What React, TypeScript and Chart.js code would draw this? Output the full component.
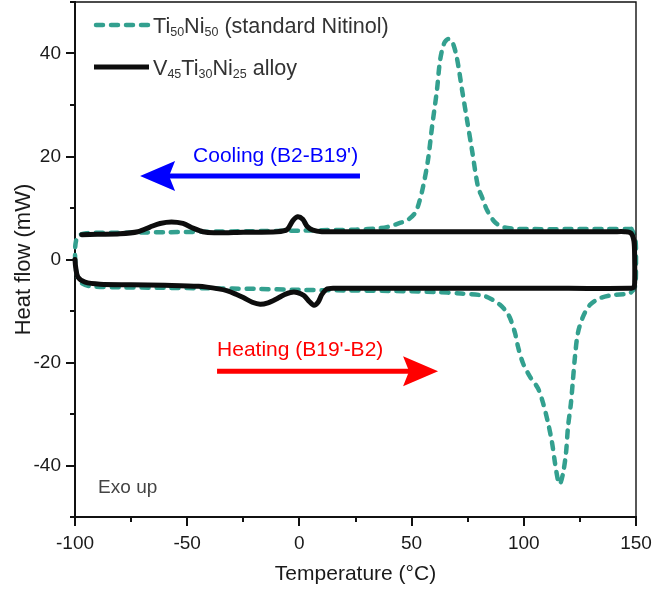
import React, { useEffect, useRef } from "react";
import { Chart, registerables } from "chart.js";

Chart.register(...registerables);

// ---- Data ----
const tiNiTemp = [148, 135, 120, 105, 95, 90.7, 87, 83.6, 81.5, 79.6, 76.9, 74.7, 72.5, 70.2, 68.2, 66.3, 64.5, 62.7, 61.3, 59.1, 57.3, 55.1, 53.3, 51.5, 48, 44.8, 40, 35.9, 25, 10, 0, -20, -40, -60, -80, -95, -98.5, -99.6, -100, -99.7, -98.8, -97, -93, -80, -60, -40, -20, 0, 20, 40, 60, 72, 81.8, 86, 89.4, 92, 93.8, 96.1, 97.4, 99.6, 102.8, 106.3, 108.6, 110.8, 112.6, 113.9, 115.2, 116.1, 117.5, 118.8, 119.7, 121, 121.9, 122.8, 124.1, 126.4, 129.5, 134, 139.8, 147.3, 149.6, 150, 150, 149.5, 148];
const tiNiHeat = [5.9, 5.9, 5.9, 5.9, 6.0, 6.3, 7.3, 9.6, 12, 14.1, 21.3, 27.1, 32.9, 39.1, 42.2, 42.8, 42, 38.7, 32.9, 25.7, 19.3, 14.1, 11, 9.0, 7.6, 7.1, 6.4, 6.1, 5.8, 5.7, 5.6, 5.5, 5.4, 5.3, 5.2, 5.1, 4.6, 3.5, 1.5, -1.5, -3.5, -4.6, -5.2, -5.4, -5.5, -5.6, -5.7, -5.9, -6.0, -6.1, -6.3, -6.6, -7.0, -7.8, -8.8, -10, -11.3, -14.3, -16.9, -20.1, -22.8, -25, -27.9, -31.7, -35.6, -39.5, -42.8, -43.6, -41.5, -37.6, -32.5, -27.9, -23.4, -18.9, -14.3, -11.1, -8.8, -7.5, -6.9, -6.5, -5.2, -2, 2, 4.5, 5.9];

const vTiNiTemp = [-97, -90, -80, -72, -66.6, -62.1, -57, -51.9, -47.4, -43, -38, -25, -10, -5.5, -3, -0.8, 1.5, 3.5, 6, 10, 20, 60, 100, 140, 145, 147.8, 149.1, 149.4, 149.4, 149, 147, 120, 80, 40, 15, 12, 10, 8.3, 6.5, 4.5, 2, -1, -4, -7, -10, -14, -17.5, -21, -25, -28, -32, -36, -45, -60, -75, -88.9, -95.5, -98.7, -99.7, -100];
const vTiNiHeat = [4.8, 4.9, 5.0, 5.4, 6.3, 7.0, 7.3, 7.0, 6.1, 5.4, 5.2, 5.3, 5.4, 5.8, 7.5, 8.3, 7.8, 6.4, 5.7, 5.4, 5.4, 5.4, 5.4, 5.4, 5.4, 5.1, 3.5, 0, -4.5, -5.4, -5.6, -5.6, -5.6, -5.6, -5.6, -5.8, -6.8, -8.3, -8.9, -8.2, -7.0, -6.4, -6.4, -6.9, -7.6, -8.4, -8.7, -8.3, -7.4, -6.8, -6.1, -5.7, -5.2, -5.0, -4.9, -4.8, -4.4, -3.4, -1.5, 0];

const xMajorTicks = [-100, -50, 0, 50, 100, 150];
const xMinorTicks = [-75, -25, 25, 75, 125];
const yMajorTicks = [-40, -20, 0, 20, 40];
const yMinorTicks = [-50, -30, -10, 10, 30, 50];

const xTitle = "Temperature (°C)";
const yTitle = "Heat flow (mW)";
const legendTiNi: [string, boolean][] = [["Ti", false], ["50", true], ["Ni", false], ["50", true], [" (standard Nitinol)", false]];
const legendVTiNi: [string, boolean][] = [["V", false], ["45", true], ["Ti", false], ["30", true], ["Ni", false], ["25", true], [" alloy", false]];
const coolingLabel = "Cooling (B2-B19')";
const heatingLabel = "Heating (B19'-B2)";
const exoLabel = "Exo up";

const FONT = "'Liberation Sans', Arial, sans-serif";
const TEAL = "#33a08f";

function drawArrow(ctx: CanvasRenderingContext2D, x0: number, x1: number, y: number, color: string) {
  const dir = Math.sign(x1 - x0);
  const headLen = 35;
  const headHalf = 15;
  const notch = 6;
  ctx.save();
  ctx.strokeStyle = color;
  ctx.fillStyle = color;
  ctx.lineWidth = 5;
  ctx.beginPath();
  ctx.moveTo(x0, y);
  ctx.lineTo(x1 - dir * (headLen - notch - 2), y);
  ctx.stroke();
  ctx.beginPath();
  ctx.moveTo(x1, y);
  ctx.lineTo(x1 - dir * headLen, y - headHalf);
  ctx.lineTo(x1 - dir * (headLen - notch), y);
  ctx.lineTo(x1 - dir * headLen, y + headHalf);
  ctx.closePath();
  ctx.fill();
  ctx.restore();
}

function drawRichText(ctx: CanvasRenderingContext2D, parts: [string, boolean][], x: number, baseline: number) {
  let cx = x;
  for (const [t, sub] of parts) {
    ctx.font = sub ? `12.5px ${FONT}` : `21.6px ${FONT}`;
    ctx.fillText(t, cx, sub ? baseline + 3 : baseline);
    cx += ctx.measureText(t).width;
  }
}

const zeroPad = (s: any) => {
  s.paddingTop = 0;
  s.paddingBottom = 0;
  s.paddingLeft = 0;
  s.paddingRight = 0;
};

const decorPlugin = {
  id: "decor",
  afterDraw(chart: any) {
    const { ctx, chartArea: a, scales } = chart;
    const xs = scales.x;
    const ys = scales.y;
    ctx.save();
    // top & right frame
    ctx.strokeStyle = "#111";
    ctx.lineWidth = 1.4;
    ctx.beginPath();
    ctx.moveTo(a.left, a.top);
    ctx.lineTo(a.right, a.top);
    ctx.lineTo(a.right, a.bottom);
    ctx.stroke();
    // ticks
    ctx.lineWidth = 2;
    ctx.strokeStyle = "#111";
    const tickX = (v: number, len: number) => {
      const px = Math.round(xs.getPixelForValue(v));
      ctx.beginPath();
      ctx.moveTo(px, a.bottom);
      ctx.lineTo(px, a.bottom + len);
      ctx.stroke();
    };
    const tickY = (v: number, len: number) => {
      const py = Math.round(ys.getPixelForValue(v));
      ctx.beginPath();
      ctx.moveTo(a.left, py);
      ctx.lineTo(a.left - len, py);
      ctx.stroke();
    };
    xMajorTicks.forEach((v) => tickX(v, 9));
    xMinorTicks.forEach((v) => tickX(v, 5));
    yMajorTicks.forEach((v) => tickY(v, 9));
    yMinorTicks.forEach((v) => tickY(v, 5));

    // legend
    const l1 = a.top + 23;
    const l2 = a.top + 65;
    ctx.save();
    ctx.strokeStyle = TEAL;
    ctx.lineWidth = 4.5;
    ctx.lineCap = "round";
    ctx.setLineDash([7, 8]);
    ctx.beginPath();
    ctx.moveTo(a.left + 21, l1);
    ctx.lineTo(a.left + 75, l1);
    ctx.stroke();
    ctx.restore();
    ctx.save();
    ctx.strokeStyle = "#0d0d0d";
    ctx.lineWidth = 5;
    ctx.beginPath();
    ctx.moveTo(a.left + 19, l2);
    ctx.lineTo(a.left + 74, l2);
    ctx.stroke();
    ctx.restore();
    ctx.fillStyle = "#333";
    ctx.textAlign = "left";
    ctx.textBaseline = "alphabetic";
    drawRichText(ctx, legendTiNi, a.left + 78, l1 + 8);
    drawRichText(ctx, legendVTiNi, a.left + 78, l2 + 8);

    // annotations
    ctx.font = `21px ${FONT}`;
    ctx.fillStyle = "#0000ff";
    ctx.fillText(coolingLabel, xs.getPixelForValue(-47.4), ys.getPixelForValue(18.9));
    drawArrow(ctx, xs.getPixelForValue(27), xs.getPixelForValue(-71), ys.getPixelForValue(16.2), "#0000ff");
    ctx.fillStyle = "#ff0000";
    ctx.fillText(heatingLabel, xs.getPixelForValue(-36.7), ys.getPixelForValue(-18.7));
    drawArrow(ctx, xs.getPixelForValue(-36.7), xs.getPixelForValue(61.8), ys.getPixelForValue(-21.7), "#ff0000");
    ctx.font = `19px ${FONT}`;
    ctx.fillStyle = "#444";
    ctx.fillText(exoLabel, xs.getPixelForValue(-89.7), ys.getPixelForValue(-45.3));
    ctx.restore();
  },
};

export default function App() {
  const ref = useRef<HTMLCanvasElement | null>(null);
  useEffect(() => {
    if (!ref.current) return;
    const chart = new Chart(ref.current, {
      type: "line",
      data: {
        datasets: [
          {
            label: "V45Ti30Ni25 alloy",
            data: vTiNiTemp.map((x, i) => ({ x, y: vTiNiHeat[i] })),
            borderColor: "#0d0d0d",
            borderWidth: 5,
            borderCapStyle: "round",
            borderJoinStyle: "round",
            pointRadius: 0,
            tension: 0.3,
            fill: false,
            clip: false as any,
            order: 1,
          },
          {
            label: "Ti50Ni50 (standard Nitinol)",
            data: tiNiTemp.map((x, i) => ({ x, y: tiNiHeat[i] })),
            borderColor: TEAL,
            borderWidth: 4.5,
            borderDash: [7, 8],
            borderCapStyle: "round",
            pointRadius: 0,
            tension: 0.3,
            fill: false,
            clip: false as any,
            order: 2,
          },
        ],
      },
      options: {
        animation: false,
        responsive: false,
        maintainAspectRatio: false,
        layout: { padding: { top: 2, right: 16, left: 0, bottom: 0 } },
        plugins: { legend: { display: false }, tooltip: { enabled: false } },
        scales: {
          x: {
            type: "linear",
            min: -100,
            max: 150,
            afterBuildTicks: (s: any) => {
              s.ticks = xMajorTicks.map((v) => ({ value: v }));
            },
            afterFit: (s: any) => {
              s.height = 75;
              zeroPad(s);
            },
            grid: { display: false, drawTicks: false },
            border: { display: true, color: "#111", width: 2 },
            ticks: { color: "#1a1a1a", font: { size: 19, family: FONT }, padding: 15, maxRotation: 0, autoSkip: false },
            title: { display: true, text: xTitle, color: "#1a1a1a", font: { size: 21, family: FONT }, padding: { top: 0, bottom: 4.7 } },
          },
          y: {
            type: "linear",
            min: -50,
            max: 50,
            afterBuildTicks: (s: any) => {
              s.ticks = yMajorTicks.map((v) => ({ value: v }));
            },
            afterFit: (s: any) => {
              s.width = 75;
              zeroPad(s);
            },
            grid: { display: false, drawTicks: false },
            border: { display: true, color: "#111", width: 2 },
            ticks: { color: "#1a1a1a", font: { size: 19, family: FONT }, padding: 14, autoSkip: false },
            title: { display: true, text: yTitle, color: "#1a1a1a", font: { size: 22, family: FONT }, padding: { top: 10.9, bottom: 0 } },
          },
        },
      },
      plugins: [decorPlugin],
    } as any);
    return () => chart.destroy();
  }, []);
  return (
    <div style={{ position: "absolute", left: 0, top: 0, width: 652, height: 592, background: "#fff" }}>
      <canvas ref={ref} width={652} height={592} />
    </div>
  );
}
